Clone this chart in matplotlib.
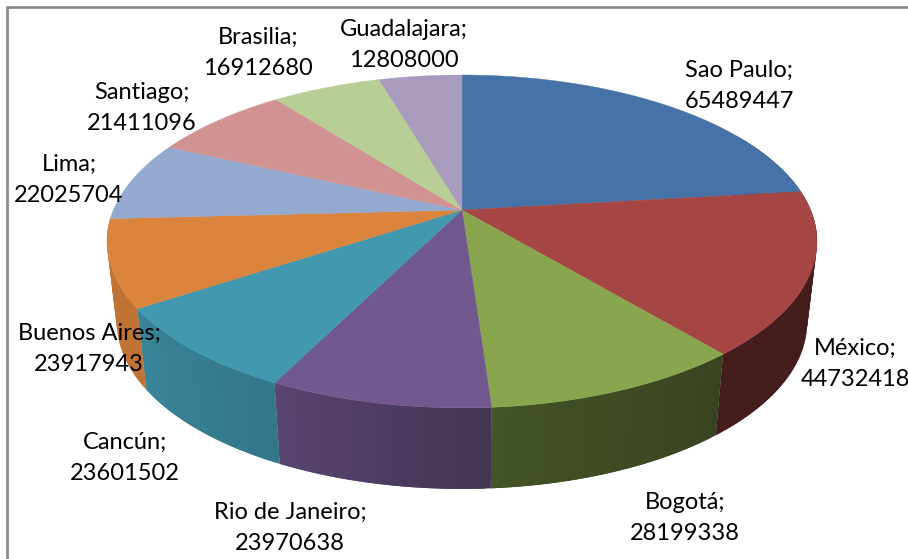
import numpy as np
import matplotlib
matplotlib.use("Agg")
import matplotlib.pyplot as plt

cities = ["Sao Paulo", "México", "Bogotá", "Rio de Janeiro", "Cancún",
          "Buenos Aires", "Lima", "Santiago", "Brasilia", "Guadalajara"]
values = [65489447, 44732418, 28199338, 23970638, 23601502,
          23917943, 22025704, 21411096, 16912680, 12808000]
colors = ["#4572A7", "#A64644", "#89A54E", "#71588F", "#4198AF",
          "#DB843D", "#93A9CF", "#D19392", "#B9CD96", "#A99BBD"]
# label centres in pixels
label_x = [739, 855, 685, 290, 125, 89, 69, 142, 258, 404]
label_y = [86, 364, 518, 528, 458, 349, 180, 108, 53, 45]

# perspective of the pie, in pixels
CX, CY = 462, 210
RX, RY = 348.6, 160.5
PERSP = 0.189
DEPTH = 81
BOTTOM_SCALE = 0.972


def top_edge(a):
    w = 1 + PERSP * np.cos(a)
    return CX + RX * np.sin(a) / w, CY - RY * np.cos(a) / w


def bottom_edge(a):
    x, y = top_edge(a)
    return CX + (x - CX) * BOTTOM_SCALE, y + DEPTH


# darkening of the side wall going round the pie
def side_shade(deg):
    return np.interp(deg, [60, 140, 175.5, 176.5, 206, 236, 300],
                     [0.40, 0.41, 0.50, 0.60, 0.78, 0.87, 0.88])


fig = plt.figure(figsize=(9.08, 5.59), dpi=100)
ax = fig.add_axes([0, 0, 1, 1])
ax.set_xlim(0, 908)
ax.set_ylim(559, 0)
ax.axis("off")

# gray frame, only left and top show
ax.plot([6.5, 6.5, 908], [559, 6.5, 6.5], color="#8C8C8C", lw=2, zorder=1)

edges = np.radians(np.cumsum([0] + values) / sum(values) * 360)

# side walls first, each strip overlaps the next one so no seams show
for i in range(len(values)):
    if np.degrees(edges[i]) > 265:
        continue
    angles = np.linspace(edges[i], edges[i + 1], 40)
    base = np.array(matplotlib.colors.to_rgb(colors[i]))
    for k in range(len(angles) - 1):
        deg = np.degrees((angles[k] + angles[k + 1]) / 2)
        if deg < 60:
            continue
        seg = np.linspace(angles[k], angles[min(k + 2, len(angles) - 1)], 4)
        xa, ya = top_edge(seg)
        xb, yb = bottom_edge(seg[::-1])
        ax.fill(np.r_[xa, xb], np.r_[ya, yb], color=base * side_shade(deg), lw=0, zorder=2)

# top face
for i in range(len(values)):
    angles = np.linspace(edges[i], edges[i + 1], 120)
    x, y = top_edge(angles)
    ax.fill(np.r_[CX, x], np.r_[CY, y], color=colors[i], lw=0.3, zorder=3)

for city, val, lx, ly in zip(cities, values, label_x, label_y):
    ax.text(lx, ly, f"{city};\n{val}", ha="center", va="center",
            family="Lato", fontsize=17, color="black", linespacing=1.6, zorder=5)

fig.savefig("out.png", dpi=100)
